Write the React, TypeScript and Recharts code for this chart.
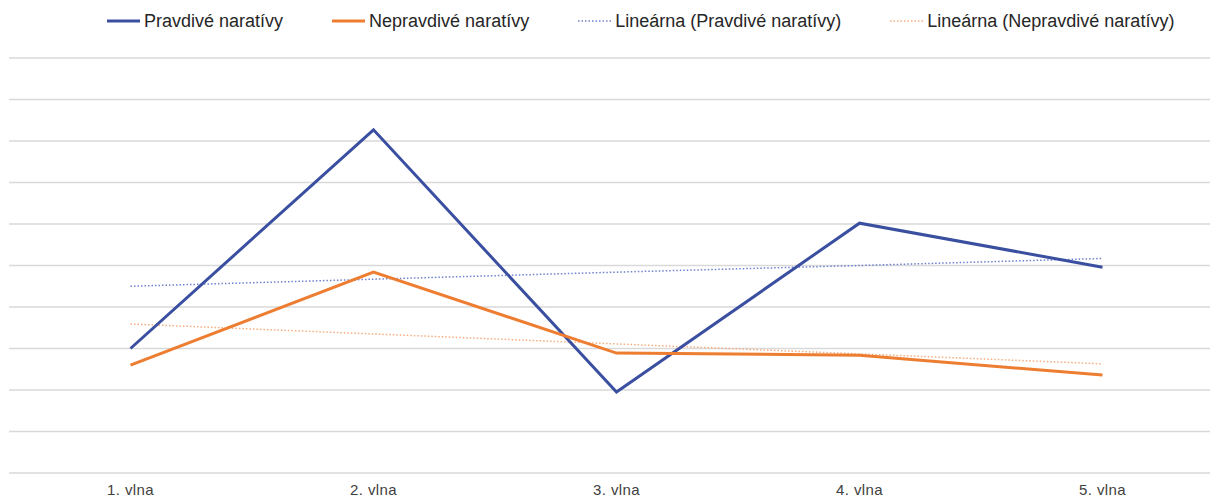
import { LineChart, Line, XAxis, YAxis, CartesianGrid } from 'recharts';

const waves = ['1. vlna', '2. vlna', '3. vlna', '4. vlna', '5. vlna'];
const trueNarratives = [3.0, 8.27, 1.95, 6.02, 4.96];
const falseNarratives = [2.6, 4.84, 2.89, 2.84, 2.36];
const trueTrend = [4.5, 4.67, 4.84, 5.0, 5.17];
const falseTrend = [3.59, 3.35, 3.11, 2.87, 2.63];
const yTicks = [0, 1, 2, 3, 4, 5, 6, 7, 8, 9, 10];

const BLUE = '#3b4fa1';
const ORANGE = '#ed7d31';
const BLUE_TREND = '#6f80cf';
const ORANGE_TREND = '#f5ad7d';

const FONT = '"Liberation Sans", Arial, sans-serif';

const data = waves.map((name, i) => ({
  name,
  pravdive: trueNarratives[i],
  nepravdive: falseNarratives[i],
  trendPravdive: trueTrend[i],
  trendNepravdive: falseTrend[i],
}));

const legendItems = [
  { label: 'Pravdivé naratívy', color: BLUE, dotted: false },
  { label: 'Nepravdivé naratívy', color: ORANGE, dotted: false },
  { label: 'Lineárna (Pravdivé naratívy)', color: BLUE_TREND, dotted: true },
  { label: 'Lineárna (Nepravdivé naratívy)', color: ORANGE_TREND, dotted: true },
];

const WaveTick = ({ x, y, payload }: { x?: number; y?: number; payload?: { value: string } }) => (
  <text
    x={x}
    y={y}
    dy={22}
    textAnchor="middle"
    fill="#404040"
    fontSize={15}
    letterSpacing={0.4}
    fontFamily={FONT}
  >
    {payload?.value}
  </text>
);

export default function App() {
  return (
    <div
      style={{
        position: 'absolute',
        left: 0,
        top: 0,
        width: 1210,
        height: 500,
        overflow: 'hidden',
        background: '#fff',
        fontFamily: FONT,
      }}
    >
      <div
        style={{
          position: 'absolute',
          left: 107,
          top: 10.5,
          display: 'flex',
          alignItems: 'center',
          gap: 49,
          fontSize: 18,
          color: '#262626',
          whiteSpace: 'nowrap',
        }}
      >
        {legendItems.map((item) => (
          <div key={item.label} style={{ display: 'flex', alignItems: 'center', gap: 4 }}>
            <svg width={33} height={6}>
              <line
                x1={0}
                y1={3}
                x2={33}
                y2={3}
                stroke={item.color}
                strokeWidth={item.dotted ? 1.5 : 3}
                strokeDasharray={item.dotted ? '1.5 2' : undefined}
              />
            </svg>
            <span>{item.label}</span>
          </div>
        ))}
      </div>
      <LineChart
        width={1230}
        height={500}
        data={data}
        margin={{ top: 58, right: 6, left: 9, bottom: 0 }}
      >
        <CartesianGrid vertical={false} stroke="#d9d9d9" strokeWidth={1.5} />
        <YAxis hide domain={[0, 10]} ticks={yTicks} />
        <XAxis
          dataKey="name"
          axisLine={false}
          tickLine={false}
          tickSize={0}
          tickMargin={0}
          height={27}
          interval={0}
          padding={{ left: 121.5, right: 121.5 }}
          tick={<WaveTick />}
        />
        <Line
          type="linear"
          dataKey="trendPravdive"
          stroke={BLUE_TREND}
          strokeWidth={1.5}
          strokeDasharray="1.5 2"
          dot={false}
          activeDot={false}
          isAnimationActive={false}
        />
        <Line
          type="linear"
          dataKey="trendNepravdive"
          stroke={ORANGE_TREND}
          strokeWidth={1.5}
          strokeDasharray="1.5 2"
          dot={false}
          activeDot={false}
          isAnimationActive={false}
        />
        <Line
          type="linear"
          dataKey="pravdive"
          stroke={BLUE}
          strokeWidth={3}
          dot={false}
          activeDot={false}
          isAnimationActive={false}
        />
        <Line
          type="linear"
          dataKey="nepravdive"
          stroke={ORANGE}
          strokeWidth={3}
          dot={false}
          activeDot={false}
          isAnimationActive={false}
        />
      </LineChart>
    </div>
  );
}
